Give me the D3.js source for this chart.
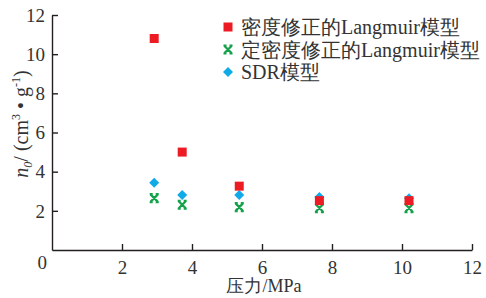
<!DOCTYPE html>
<html>
<head>
<meta charset="utf-8">
<script src="https://cdn.jsdelivr.net/npm/d3@7"></script>
<style>
  html, body { margin: 0; padding: 0; background: #fff; }
</style>
</head>
<body>
<svg id="chart" width="486" height="298"></svg>
<script>
// pressure, MPa
const pressure = [2.92, 3.72, 5.35, 7.64, 10.2]
// n0 values for each model
const densityLangmuir = [10.8, 5.0, 3.26, 2.52, 2.52]
const fixedDensityLangmuir = [2.65, 2.31, 2.19, 2.14, 2.14]
const sdrModel = [3.44, 2.81, 2.81, 2.71, 2.64]

const xTicks = [2, 4, 6, 8, 10, 12]
const yTicks = [2, 4, 6, 8, 10, 12]
const seriesNames = ['密度修正的Langmuir模型', '定密度修正的Langmuir模型', 'SDR模型']

const fontFamily = 'Liberation Serif'
const textColor = '#333'
const axisColor = '#231f20'

const svg = d3.select('#chart').attr('font-family', fontFamily)
const x = d3.scaleLinear().domain([0, 12]).range([52, 472])
const y = d3.scaleLinear().domain([0, 12]).range([250, 15])

// axes, ticks pointing inward
const xAxis = svg.append('g').attr('transform', `translate(0,${y(0)})`)
  .call(d3.axisBottom(x).tickValues(xTicks).tickSizeInner(-6).tickSizeOuter(0).tickPadding(10))
const yAxis = svg.append('g').attr('transform', `translate(${x(0)},0)`)
  .call(d3.axisLeft(y).tickValues(yTicks).tickSizeInner(-6).tickSizeOuter(0).tickPadding(7))
;[xAxis, yAxis].forEach(g => {
  g.attr('font-family', fontFamily).attr('font-size', 19)
  g.select('.domain').attr('stroke', axisColor).attr('stroke-width', 1.4)
  g.selectAll('.tick line').attr('stroke', axisColor).attr('stroke-width', 1.4)
  g.selectAll('.tick text').attr('fill', textColor)
})
xAxis.selectAll('.tick text').attr('dy', '0.72em')
yAxis.selectAll('.tick text').attr('dy', '0.33em')

// shared origin label
svg.append('text').attr('x', x(0) - 5).attr('y', y(0) + 19)
  .attr('text-anchor', 'end').attr('font-size', 19).attr('fill', textColor).text('0')

// axis titles
svg.append('text').attr('x', 264).attr('y', 292).attr('text-anchor', 'middle')
  .attr('font-size', 18).attr('fill', textColor).text('压力/MPa')

const yt = svg.append('text').attr('transform', 'translate(28,124) rotate(-90)')
  .attr('text-anchor', 'middle').attr('font-size', 20).attr('fill', textColor)
yt.append('tspan').attr('font-style', 'italic').text('n')
yt.append('tspan').attr('font-size', 12).attr('font-style', 'italic').attr('dy', 4).text('0')
yt.append('tspan').attr('dy', -4).text('/ (cm')
yt.append('tspan').attr('font-size', 12).attr('dy', -8).text('3')
yt.append('tspan').attr('dy', 8).text(' • g')
yt.append('tspan').attr('font-size', 12).attr('dy', -8).text('-1')
yt.append('tspan').attr('dy', 8).text(')')

// markers
const red = '#ed1c24', green = '#13a24a', blue = '#10aae8'
const drawSquare = (g, cx, cy) => g.append('rect')
  .attr('x', cx - 4.5).attr('y', cy - 4.5).attr('width', 9).attr('height', 9).attr('fill', red)
const drawDiamond = (g, cx, cy) => g.append('path')
  .attr('d', `M${cx},${cy - 5}L${cx + 5},${cy}L${cx},${cy + 5}L${cx - 5},${cy}Z`).attr('fill', blue)
const drawCross = (g, cx, cy) => g.append('path')
  .attr('d', `M${cx - 3.5},${cy - 3.5}L${cx + 3.5},${cy + 3.5}M${cx + 3.5},${cy - 3.5}L${cx - 3.5},${cy + 3.5}` +
    `M${cx - 4.5},${cy - 4}H${cx - 1.5}M${cx + 1.5},${cy - 4}H${cx + 4.5}` +
    `M${cx - 4.5},${cy + 4}H${cx - 1.5}M${cx + 1.5},${cy + 4}H${cx + 4.5}`)
  .attr('stroke', green).attr('stroke-width', 2.2).attr('fill', 'none')

const marks = svg.append('g')
pressure.forEach((p, i) => drawCross(marks, x(p), y(fixedDensityLangmuir[i])))
pressure.forEach((p, i) => drawDiamond(marks, x(p), y(sdrModel[i])))
pressure.forEach((p, i) => drawSquare(marks, x(p), y(densityLangmuir[i])))

// legend
const legend = svg.append('g')
const drawers = [drawSquare, drawCross, drawDiamond]
seriesNames.forEach((name, i) => {
  const ly = 27 + i * 22.5
  drawers[i](legend, 228, ly)
  legend.append('text').attr('x', 241).attr('y', ly).attr('dy', '0.36em')
    .attr('font-size', 20).attr('fill', textColor).text(name)
})
</script>
</body>
</html>
